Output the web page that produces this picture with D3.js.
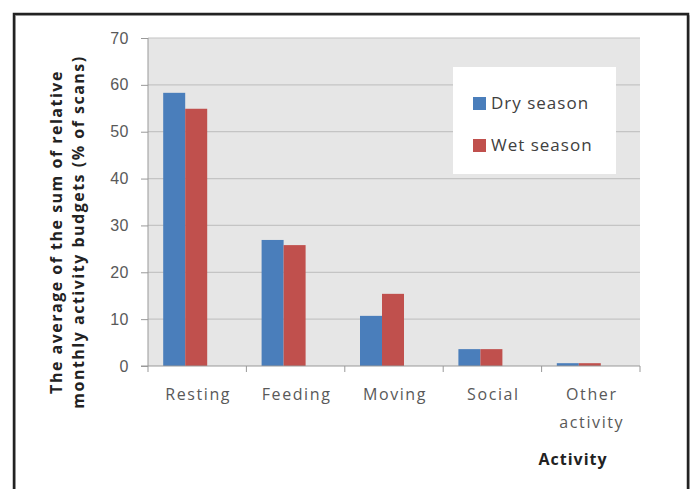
<!DOCTYPE html>
<meta charset="utf-8">
<style>

body {
  margin: 0;
  background: #fff;
}

svg {
  display: block;
  font-family: "Open Sans", sans-serif;
}

.grid line {
  stroke: #c4c4c4;
  stroke-width: 1.2;
}

.axis text {
  fill: #595959;
  font-size: 16px;
}

.x-label {
  letter-spacing: 1.6px;
}

.axis path,
.axis line {
  stroke: #999;
}

.title {
  font-weight: bold;
  font-size: 16px;
  fill: #222;
  letter-spacing: 1.5px;
}

</style>
<svg width="694" height="489"></svg>
<script src="https://d3js.org/d3.v7.min.js"></script>
<script>

// data
var activities = ["Resting", "Feeding", "Moving", "Social", "Other activity"];
var seasons = ["Dry season", "Wet season"];
var drySeason = [58.3, 26.9, 10.7, 3.6, 0.6];
var wetSeason = [54.9, 25.8, 15.4, 3.6, 0.6];
var yTicks = [0, 10, 20, 30, 40, 50, 60, 70];

var seasonColors = ["#4a7ebb", "#c0504d"];

var svg = d3.select("svg"),
    margin = {top: 38, right: 54, bottom: 123, left: 148},
    width = +svg.attr("width") - margin.left - margin.right,
    height = +svg.attr("height") - margin.top - margin.bottom;

// outer frame (open at the bottom)
svg.append("path")
    .attr("d", "M14,489 V14 H688 V489")
    .attr("fill", "none")
    .attr("stroke", "#bbb")
    .attr("stroke-width", 1)
    .attr("transform", "translate(1.5,1.5)");
svg.append("path")
    .attr("d", "M14,489 V14 H688 V489")
    .attr("fill", "none")
    .attr("stroke", "#222")
    .attr("stroke-width", 2.5);

var g = svg.append("g")
    .attr("transform", "translate(" + margin.left + "," + margin.top + ")");

var x0 = d3.scaleBand()
    .domain(activities)
    .range([0, width]);

// Excel leaves the pair of bars a bit left of the category centre
var x1 = d3.scaleBand()
    .domain(seasons)
    .range([x0.bandwidth() / 2 - 34, x0.bandwidth() / 2 + 10]);

var y = d3.scaleLinear()
    .domain([0, 70])
    .range([height, 0]);

// plot background
g.append("rect")
    .attr("width", width)
    .attr("height", height)
    .attr("fill", "#e6e6e6");

// gridlines
g.append("g")
    .attr("class", "grid")
  .selectAll("line")
  .data(yTicks.filter(function(d) { return d > 0; }))
  .enter().append("line")
    .attr("x1", 0)
    .attr("x2", width)
    .attr("y1", function(d) { return y(d); })
    .attr("y2", function(d) { return y(d); });

// bars
var series = [drySeason, wetSeason];
g.append("g")
  .selectAll("g")
  .data(activities)
  .enter().append("g")
    .attr("transform", function(d) { return "translate(" + x0(d) + ",0)"; })
  .selectAll("rect")
  .data(function(d, i) {
    return seasons.map(function(s, j) { return {season: s, value: series[j][i], idx: j}; });
  })
  .enter().append("rect")
    .attr("x", function(d) { return x1(d.season); })
    .attr("width", x1.bandwidth())
    .attr("y", function(d) { return y(d.value); })
    .attr("height", function(d) { return height - y(d.value); })
    .attr("fill", function(d) { return seasonColors[d.idx]; });

// y axis
var yAxis = g.append("g")
    .attr("class", "axis")
    .call(d3.axisLeft(y).tickValues(yTicks).tickSize(7).tickPadding(12));
yAxis.select(".domain").attr("d", "M0," + height + "V0");
yAxis.selectAll("text").style("letter-spacing", "0.5px");

// x axis with ticks at category boundaries
var xAxis = g.append("g")
    .attr("class", "axis")
    .attr("transform", "translate(0," + height + ")");
xAxis.append("line")
    .attr("x1", -7)
    .attr("x2", width)
    .attr("stroke", "#999");
xAxis.selectAll(".tick")
  .data(d3.range(activities.length + 1))
  .enter().append("line")
    .attr("x1", function(i) { return i * x0.step(); })
    .attr("x2", function(i) { return i * x0.step(); })
    .attr("y1", 0)
    .attr("y2", 6);
xAxis.selectAll(".x-label")
  .data(activities)
  .enter().append("text")
    .attr("class", "x-label")
    .attr("text-anchor", "middle")
    .attr("x", function(d) { return x0(d) + x0.bandwidth() / 2 + 1; })
    .attr("y", 34)
  .selectAll("tspan")
  .data(function(d) { return d.split(" "); })
  .enter().append("tspan")
    .attr("x", function() { return d3.select(this.parentNode).attr("x"); })
    .attr("dy", function(d, i) { return i ? 28 : 0; })
    .text(function(d) { return d; });

// axis titles
svg.append("text")
    .attr("class", "title")
    .attr("x", 573)
    .attr("y", 465)
    .attr("text-anchor", "middle")
    .style("letter-spacing", "1px")
    .text("Activity");

var yTitle = svg.append("text")
    .attr("class", "title")
    .attr("transform", "translate(62,232) rotate(-90)")
    .attr("text-anchor", "middle");
yTitle.append("tspan")
    .attr("x", 0)
    .attr("y", 0)
    .text("The average of the sum of relative");
yTitle.append("tspan")
    .attr("x", 0)
    .attr("y", 22)
    .text("monthly activity budgets (% of scans)");

// legend
var legend = svg.append("g")
    .attr("transform", "translate(453,67)");
legend.append("rect")
    .attr("width", 163)
    .attr("height", 107)
    .attr("fill", "#fff");
var item = legend.selectAll(".item")
  .data(seasons)
  .enter().append("g")
    .attr("transform", function(d, i) { return "translate(20," + (36 + i * 42) + ")"; });
item.append("rect")
    .attr("y", -6)
    .attr("width", 13)
    .attr("height", 13)
    .attr("fill", function(d, i) { return seasonColors[i]; });
item.append("text")
    .attr("x", 18)
    .attr("dy", "0.35em")
    .attr("fill", "#404040")
    .style("font-size", "17px")
    .style("letter-spacing", "1px")
    .text(function(d) { return d; });

</script>
